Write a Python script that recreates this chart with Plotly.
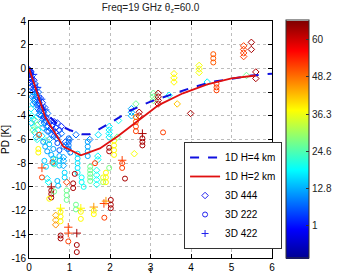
import plotly.graph_objects as go

# ---- 1D model curves ----
tau_h4 = [0.0, 0.15, 0.3, 0.45, 0.7, 1.0, 1.3, 1.5, 1.7, 2.1, 2.5, 3.0, 3.5, 4.0, 4.5, 5.0, 5.5, 6.0]
pd_h4 = [0.0, -1.6, -3.0, -3.9, -4.7, -5.2, -5.55, -5.55, -5.2, -4.4, -3.55, -2.8, -2.2, -1.65, -1.15, -0.85, -0.6, -0.45]

tau_h2 = [0.0, 0.2, 0.4, 0.85, 1.28, 1.75, 2.2, 2.7, 3.2, 3.8, 4.4, 5.0, 5.6]
pd_h2 = [0.0, -2.0, -4.1, -6.6, -7.33, -6.75, -5.7, -4.4, -3.1, -2.1, -1.35, -0.85, -0.6]

# ---- 3D 444 (diamonds) ----
d444_tau = [0.00, 0.02, 0.04, 0.05, 0.07, 0.08, 0.10, 0.12, 0.13, 0.15, 0.17, 0.19, 0.21, 0.23,
            0.25, 0.28, 0.30, 0.33, 0.36, 0.39, 0.42, 0.46, 0.50, 0.55, 0.60, 0.66, 0.72, 0.80,
            0.90, 1.00, 0.90, 0.95, 1.16, 1.50,
            0.01, 0.03, 0.03, 0.05, 0.06, 0.09, 0.11, 0.11, 0.14, 0.16, 0.18, 0.20, 0.22, 0.24,
            0.26, 0.27, 0.29, 0.31, 0.34, 0.37, 0.38, 0.41, 0.43, 0.47, 0.49, 0.53, 0.56, 0.58,
            0.62, 0.65, 0.68, 0.75, 0.80, 0.70, 0.62,
            0.08, 0.10, 0.12, 0.25, 0.30, 0.35, 0.45, 0.50,
            0.10, 0.12, 0.14, 0.18, 0.22, 0.20, 0.06,
            0.05, 0.07, 0.32, 0.48, 0.45, 0.15, 0.20, 0.42, 0.10,
            0.85, 0.85, 0.85,
            1.67, 1.67, 1.67, 1.67, 1.98, 1.98, 1.98, 1.98, 1.71, 1.70, 1.70,
            2.18, 2.21, 2.53, 2.53, 2.53, 2.72, 2.72, 2.64, 3.07, 3.07, 3.07,
            3.19, 3.19, 3.19, 3.19, 3.46, 3.66, 3.58, 3.58, 3.58, 3.99, 4.20, 4.20, 4.20,
            5.30, 5.30, 5.30, 5.30, 5.49, 5.49, 5.60, 5.60, 5.37, 4.40,
            0.66, 0.66, 0.66, 2.60, 0.93]
d444_pd = [-0.1, -0.4, -0.8, -0.3, -1.1, -0.6, -1.4, -1.0, -1.8, -1.3, -2.1, -1.7, -2.5, -2.0,
           -2.9, -2.5, -3.3, -2.9, -3.7, -3.3, -4.1, -3.8, -4.6, -4.4, -5.2, -5.0, -5.7, -5.5,
           -6.2, -6.0, -6.5, -6.8, -5.6, -6.0,
           -0.2, -0.5, -1.2, -1.6, -0.9, -2.0, -1.7, -2.3, -2.6, -2.9, -2.4, -3.1, -3.4, -3.0,
           -3.6, -3.9, -3.5, -4.0, -4.3, -4.1, -4.6, -4.4, -4.9, -4.9, -5.3, -5.1, -5.6, -4.8,
           -5.7, -5.4, -5.9, -5.2, -4.9, -4.6, -4.5,
           -2.4, -3.0, -2.7, -3.9, -4.6, -5.0, -5.3, -6.0,
           -4.3, -4.9, -5.4, -5.8, -5.2, -6.0, -4.6,
           -3.4, -4.0, -5.7, -9.6, -9.3, -4.4, -4.8, -6.1, -5.2,
           -7.5, -7.8, -8.2,
           -8.6, -9.0, -9.4, -9.8, -4.9, -5.2, -5.5, -5.8, -5.6, -7.4, -7.7,
           -5.8, -4.4, -3.4, -3.7, -4.0, -3.7, -4.0, -3.0, -2.1, -2.4, -2.7,
           -2.1, -2.4, -2.7, -3.0, -2.27, -3.0, -0.45, -0.8, -1.15, -3.8, 0.25, -0.05, -0.35,
           1.9, 1.6, 1.3, 1.0, 2.2, 1.6, -0.3, -0.85, -0.6, -1.15,
           -12.4, -12.8, -13.2, -7.2, -9.6]
d444_val = [2, 3, 2, 5, 3, 6, 4, 2, 5, 7, 3, 6, 4, 8,
            5, 3, 6, 4, 7, 5, 3, 8, 5, 6, 4, 7, 5, 9,
            6, 8, 6, 8, 8, 10,
            1, 2, 4, 6, 1, 7, 3, 9, 5, 8, 2, 6, 9, 3,
            7, 10, 2, 5, 8, 3, 9, 5, 7, 4, 8, 3, 9, 2,
            6, 3, 8, 4, 2, 3, 2,
            12, 14, 11, 13, 12, 15, 10, 12,
            16, 20, 17, 14, 19, 21, 15,
            18, 19, 17, 19, 18, 26, 27, 25, 28,
            12, 13, 12,
            20, 20, 19, 20, 18, 18, 18, 18, 17, 19, 19,
            27, 20, 13, 13, 14, 62, 62, 27, 27, 27, 28,
            63, 63, 63, 63, 18, 42, 38, 38, 38, 63, 37, 37, 37,
            52, 52, 52, 52, 63, 63, 63, 63, 27, 18,
            44, 44, 46, 37, 52]

# ---- 3D 222 (circles) ----
c222_tau = [0.35, 0.40, 0.45, 0.50, 0.55, 0.60, 0.38, 0.42,
            0.98, 0.98, 0.98, 0.98, 1.02,
            1.20, 1.20, 1.20, 1.20, 1.20,
            1.45, 1.45, 1.45, 1.45,
            1.51, 1.51, 1.51, 1.51, 1.51,
            1.90, 1.90, 1.90, 1.98,
            1.98, 1.98, 2.10, 2.10, 2.10, 2.10,
            2.30, 2.30, 2.80, 2.80, 2.80, 2.37,
            3.31, 4.55, 4.55, 4.55, 4.63, 4.63, 4.63,
            2.64, 2.64, 2.64, 2.64,
            0.23, 0.23, 0.32, 0.55, 0.55, 0.55, 0.62, 0.50,
            0.78, 0.78, 0.78, 0.78, 0.78, 0.97, 1.18, 1.18,
            1.28, 1.28, 0.93, 0.93, 0.93, 1.16, 1.16,
            1.86, 1.60, 1.60, 2.02, 2.02, 2.02,
            1.09, 1.09, 1.13, 0.58, 1.63, 0.25,
            1.83, 1.83, 0.70, 0.75, 0.85,
            1.30, 1.30, 1.35, 0.70, 0.72, 0.65, 0.62,
            0.60, 0.60, 0.75, 0.75, 0.75, 0.88, 0.88]
c222_pd = [-6.2, -6.6, -7.0, -6.4, -7.3, -6.8, -7.8, -8.3,
           -5.9, -6.2, -6.5, -6.8, -7.1,
           -7.2, -7.6, -8.0, -8.4, -8.8,
           -6.2, -6.6, -7.0, -7.4,
           -8.3, -8.6, -8.9, -9.2, -9.5,
           -8.8, -9.2, -9.6, -8.4,
           -6.7, -7.0, -6.1, -6.5, -6.9, -7.3,
           -8.0, -8.4, -5.9, -6.2, -6.5, -9.3,
           -5.4, 1.2, 0.85, 0.5, -1.3, -1.6, -1.85,
           -4.1, -4.5, -4.9, -5.3,
           -6.8, -7.1, -9.2, -10.3, -10.6, -10.9, -10.4, -11.0,
           -12.1, -12.5, -12.9, -14.1, -14.35, -14.6, -14.9, -15.5,
           -12.1, -12.7, -10.3, -10.7, -11.1, -11.5, -11.9,
           -12.6, -12.0, -12.3, -11.1, -11.5, -11.8,
           -9.7, -10.1, -8.9, -7.9, -8.0, -5.6,
           -9.2, -9.6, -6.3, -6.9, -6.6,
           -9.2, -9.6, -10.0, -9.5, -9.9, -7.7, -8.1,
           -7.6, -8.0, -7.4, -7.8, -8.2, -8.8, -9.2]
c222_val = [12, 13, 12, 14, 13, 12, 15, 16,
            8, 8, 9, 9, 10,
            16, 16, 17, 17, 18,
            12, 12, 13, 13,
            27, 27, 27, 27, 27,
            38, 38, 38, 28,
            63, 63, 38, 38, 38, 38,
            52, 52, 63, 63, 63, 63,
            52, 50, 50, 50, 52, 52, 52,
            47, 50, 52, 52,
            38, 38, 52, 63, 63, 63, 27, 38,
            38, 38, 38, 63, 63, 52, 63, 63,
            38, 38, 27, 27, 27, 27, 27,
            52, 38, 38, 63, 63, 63,
            63, 63, 63, 52, 52, 52,
            36, 32, 6, 7, 9,
            19, 19, 20, 14, 15, 26, 25,
            14, 15, 13, 14, 15, 16, 16]

# ---- 3D 422 (plus) ----
p422_tau = [0.40, 0.10, 0.20, 0.30, 0.15, 0.32, 0.55, 0.78, 0.97, 0.97, 1.18, 1.28, 1.60, 1.85, 1.90, 2.30, 2.80]
p422_pd = [-3.5, -0.5, -1.6, -2.6, -2.2, -8.4, -10.0, -11.8, -13.4, -13.9, -13.9, -11.8, -11.7, -11.4, -11.2, -7.75, -5.5]
p422_val = [6, 3, 4, 5, 12, 52, 63, 38, 52, 52, 63, 38, 45, 52, 45, 52, 63]

# ---- colour bar ----
cbar_ticks = [1, 12.8, 24.6, 36.3, 48.2, 60]
c_min, c_max = -9.5, 66.0

x_ticks = [0, 1, 2, 3, 4, 5, 6]
y_ticks = [4, 2, 0, -2, -4, -6, -8, -10, -12, -14, -16]

jet = [[0.0, "#00008F"], [0.125, "#0000FF"], [0.375, "#00FFFF"],
       [0.625, "#FFFF00"], [0.875, "#FF0000"], [1.0, "#800000"]]

FONT = "Liberation Sans, Arial, sans-serif"
LEG_BLUE = "#2222EE"

fig = go.Figure()

fig.add_trace(go.Scatter(x=d444_tau, y=d444_pd, mode="markers", name="3D 444", showlegend=False,
                         marker=dict(symbol="diamond-open", size=5, color=d444_val,
                                     coloraxis="coloraxis", line=dict(width=1))))
fig.add_trace(go.Scatter(x=c222_tau, y=c222_pd, mode="markers", name="3D 222", showlegend=False,
                         marker=dict(symbol="circle-open", size=5, color=c222_val,
                                     coloraxis="coloraxis", line=dict(width=1))))
fig.add_trace(go.Scatter(x=p422_tau, y=p422_pd, mode="markers", name="3D 422", showlegend=False,
                         marker=dict(symbol="cross-thin-open", size=6, color=p422_val,
                                     coloraxis="coloraxis", line=dict(width=1))))
fig.add_trace(go.Scatter(x=tau_h4, y=pd_h4, mode="lines", name="1D H=4 km", legendrank=1,
                         line=dict(color="#1010E0", width=2, dash="dash")))
fig.add_trace(go.Scatter(x=tau_h2, y=pd_h2, mode="lines", name="1D H=2 km", legendrank=2,
                         line=dict(color="#E01010", width=1.8)))
# legend entries for the 3D series (drawn in a single blue like the reference legend)
for nm, sym, rank in [("3D 444", "diamond-open", 3), ("3D 222", "circle-open", 4),
                      ("3D 422", "cross-thin-open", 5)]:
    fig.add_trace(go.Scatter(x=[None], y=[None], mode="markers", name=nm, legendrank=rank,
                             marker=dict(symbol=sym, size=5, color=LEG_BLUE, line=dict(width=1))))

axis_common = dict(showline=True, linecolor="black", linewidth=1, mirror="allticks",
                   ticks="inside", ticklen=4, tickcolor="black",
                   showgrid=True, gridcolor="#BDBDBD", griddash="dot", gridwidth=1,
                   zeroline=False, tickfont=dict(family=FONT, size=10, color="black"),
                   automargin=False)

fig.update_layout(
    width=348, height=275,
    margin=dict(l=29, r=62, t=21, b=17),
    paper_bgcolor="white", plot_bgcolor="white",
    font=dict(family=FONT, size=10, color="black"),
    title=dict(text="Freq=19 GHz θ<sub>z</sub>=60.0", x=0.5, xref="paper", xanchor="center",
               y=1 - 7 / 275, yref="container", yanchor="middle",
               font=dict(family=FONT, size=10, color="#222222")),
    xaxis=dict(range=[0, 6], tickvals=x_ticks, ticktext=[str(v) for v in x_ticks],
               title=dict(text="τ", standoff=6, font=dict(family=FONT, size=9)), **axis_common),
    yaxis=dict(range=[-16, 4], tickvals=y_ticks, ticktext=[str(v) for v in y_ticks],
               title=dict(text="PD [K]", standoff=3, font=dict(family=FONT, size=10)), **axis_common),
    coloraxis=dict(colorscale=jet, cmin=c_min, cmax=c_max,
                   colorbar=dict(x=(301 - 29) / 257, xanchor="left", xref="paper", xpad=0,
                                 y=0.5, yanchor="middle", ypad=0, len=1.005, lenmode="fraction",
                                 thickness=23, thicknessmode="pixels",
                                 outlinewidth=1, outlinecolor="#333333",
                                 tickvals=cbar_ticks, ticktext=[str(v) for v in cbar_ticks],
                                 ticks="inside", ticklen=3, tickcolor="#333333",
                                 tickfont=dict(family=FONT, size=10, color="#222222"))),
    legend=dict(x=(193 - 29) / 257, y=(258 - 142) / 237, xanchor="left", yanchor="top",
                bgcolor="white", bordercolor="#333333", borderwidth=1,
                font=dict(family=FONT, size=10, color="black"),
                itemwidth=30, tracegroupgap=0),
    showlegend=True,
)

fig.write_html("out.html")
